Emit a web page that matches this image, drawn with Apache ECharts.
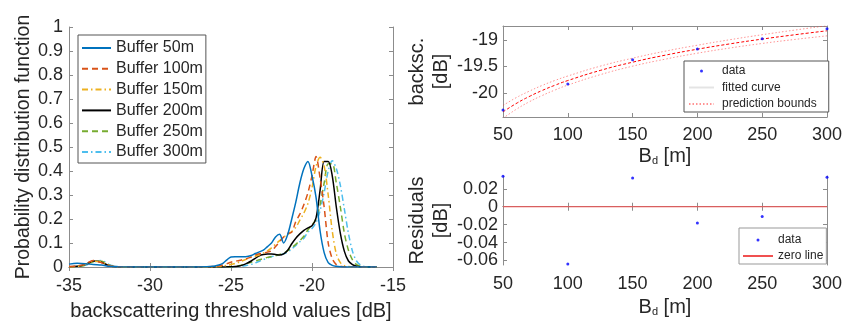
<!DOCTYPE html>
<html>
<head>
<meta charset="utf-8">
<script src="https://cdn.jsdelivr.net/npm/echarts@6.0.0/dist/echarts.min.js"></script>
<style>
  html, body { margin: 0; padding: 0; background: #fff; }
  #main { width: 853px; height: 328px; }
</style>
</head>
<body>
<div id="main"></div>
<script>
// ---- left plot: pdf of backscattering thresholds ----
var XS = [-35, -34.5, -34, -33.5, -33, -32.5, -32, -30, -28, -26.5,
  -26, -25.75, -25.5, -25.25, -25, -24.75, -24.5, -24.25, -24, -23.75, -23.5, -23.25,
  -23, -22.75, -22.5, -22.25, -22, -21.75, -21.5, -21.25, -21, -20.75, -20.5, -20.25,
  -20, -19.75, -19.5, -19.25, -19, -18.75, -18.5, -18.25, -18, -17.75, -17.5, -17.25,
  -17, -16.75, -16.5, -16.25, -16];

var BUF50 = [0.012, 0.016, 0.014, 0.01, 0.008, 0.003, 0.001, 0, 0, 0.001,
  0.004, 0.008, 0.015, 0.03, 0.042, 0.043, 0.043, 0.043, 0.044, 0.048, 0.056, 0.063,
  0.07, 0.085, 0.1, 0.125, 0.136, 0.1, 0.135, 0.2, 0.27, 0.35, 0.41, 0.44,
  0.38, 0.29, 0.15, 0.06, 0.018, 0.007, 0.003, 0.001, 0, 0, 0, 0,
  0, 0, 0, 0, 0];
var BUF100 = [0.002, 0.004, 0.012, 0.027, 0.018, 0.005, 0.001, 0, 0, 0.001,
  0.002, 0.004, 0.008, 0.014, 0.02, 0.024, 0.027, 0.031, 0.036, 0.042, 0.05, 0.055,
  0.058, 0.062, 0.068, 0.085, 0.105, 0.125, 0.14, 0.145, 0.19, 0.22, 0.26, 0.31,
  0.38, 0.46, 0.37, 0.25, 0.1, 0.035, 0.01, 0.003, 0.001, 0, 0, 0,
  0, 0, 0, 0, 0];
var BUF150 = [0.001, 0.003, 0.01, 0.024, 0.022, 0.006, 0.001, 0, 0, 0,
  0.001, 0.002, 0.004, 0.007, 0.01, 0.015, 0.02, 0.027, 0.034, 0.04, 0.045, 0.05,
  0.058, 0.067, 0.08, 0.095, 0.11, 0.125, 0.135, 0.148, 0.165, 0.195, 0.225, 0.265,
  0.33, 0.42, 0.457, 0.42, 0.3, 0.15, 0.055, 0.018, 0.006, 0.002, 0, 0,
  0, 0, 0, 0, 0];
var BUF200 = [0.001, 0.003, 0.01, 0.025, 0.02, 0.005, 0.001, 0, 0, 0,
  0, 0, 0, 0.001, 0.001, 0.002, 0.004, 0.009, 0.016, 0.025, 0.036, 0.047,
  0.052, 0.054, 0.054, 0.052, 0.05, 0.055, 0.07, 0.097, 0.12, 0.138, 0.153, 0.163,
  0.172, 0.205, 0.32, 0.44, 0.44, 0.38, 0.25, 0.14, 0.065, 0.025, 0.01, 0.003,
  0.001, 0, 0, 0, 0];
var BUF250 = [0.001, 0.002, 0.008, 0.022, 0.024, 0.007, 0.001, 0, 0, 0,
  0, 0, 0, 0, 0.001, 0.002, 0.005, 0.01, 0.015, 0.02, 0.025, 0.03,
  0.035, 0.04, 0.044, 0.048, 0.052, 0.058, 0.068, 0.08, 0.095, 0.11, 0.128, 0.155,
  0.175, 0.2, 0.26, 0.35, 0.43, 0.43, 0.35, 0.25, 0.14, 0.07, 0.03, 0.01,
  0.003, 0.001, 0, 0, 0];
var BUF300 = [0.001, 0.002, 0.007, 0.02, 0.027, 0.01, 0.002, 0, 0, 0,
  0, 0, 0, 0, 0, 0.001, 0.002, 0.004, 0.007, 0.011, 0.017, 0.024,
  0.031, 0.038, 0.043, 0.047, 0.05, 0.055, 0.063, 0.075, 0.09, 0.105, 0.12, 0.145,
  0.16, 0.185, 0.235, 0.31, 0.4, 0.443, 0.41, 0.34, 0.24, 0.14, 0.065, 0.025,
  0.008, 0.002, 0, 0, 0];

// ---- right plots: fit of threshold vs buffer distance ----
var BD = [50, 100, 150, 200, 250, 300];
var BACKSC = [-20.32, -19.83, -19.375, -19.17, -18.98, -18.79];
var FIT_X = [50, 60, 70, 80, 90, 100, 125, 150, 175, 200, 225, 250, 275, 300];
var FIT = [-20.354, -20.199, -20.068, -19.954, -19.854, -19.765, -19.575, -19.42,
  -19.289, -19.176, -19.076, -18.986, -18.905, -18.83];
var UPPER = [-20.234, -20.089, -19.968, -19.859, -19.764, -19.68, -19.495, -19.345,
  -19.214, -19.101, -18.998, -18.904, -18.817, -18.735];
var LOWER = [-20.474, -20.309, -20.168, -20.049, -19.944, -19.85, -19.655, -19.495,
  -19.364, -19.251, -19.154, -19.068, -18.993, -18.925];
var RESID = [0.034, -0.064, 0.032, -0.018, -0.011, 0.033];

var FIT_TICKS = [-20, -19.5, -19];
var RES_TICKS = [-0.06, -0.04, -0.02, 0, 0.02];

function pairs(xs, ys) {
  return xs.map(function (x, i) { return [x, ys[i]]; });
}

var FRAME = '#8c8c8c';
var TXT = '#262626';
var FONT = 'Liberation Sans, Arial, sans-serif';

function frameAxis(extra) {
  var a = {
    type: 'value',
    axisLine: { show: true, lineStyle: { color: FRAME, width: 1 } },
    axisTick: { show: true, inside: true, length: 4, lineStyle: { color: FRAME } },
    axisLabel: { show: false },
    splitLine: { show: false }
  };
  return Object.assign(a, extra);
}

var chart = echarts.init(document.getElementById('main'), null, { renderer: 'canvas' });

var bufNames = ['Buffer 50m', 'Buffer 100m', 'Buffer 150m', 'Buffer 200m', 'Buffer 250m', 'Buffer 300m'];
var bufData = [BUF50, BUF100, BUF150, BUF200, BUF250, BUF300];
var bufColors = ['#0072BD', '#D95319', '#EDB120', '#000000', '#77AC30', '#4DBEEE'];
var bufTypes = ['solid', [6, 4], [6, 3, 1.5, 3], 'solid', [6, 4], [6, 3, 1.5, 3]];

var series = bufNames.map(function (n, i) {
  return {
    name: n, type: 'line', xAxisIndex: 0, yAxisIndex: 0,
    data: pairs(XS, bufData[i]), symbol: 'none', smooth: 0.3,
    lineStyle: { color: bufColors[i], width: 1.5, type: bufTypes[i] },
    itemStyle: { color: bufColors[i] }, z: 10 - i
  };
});

series.push(
  {
    name: 'prediction bounds', type: 'line', xAxisIndex: 2, yAxisIndex: 2,
    data: pairs(FIT_X, UPPER), symbol: 'none', smooth: true,
    lineStyle: { color: 'rgba(255,60,60,0.55)', width: 1, type: [1.5, 2] },
    itemStyle: { color: 'rgba(255,60,60,0.55)' }
  },
  {
    name: 'prediction bounds', type: 'line', xAxisIndex: 2, yAxisIndex: 2,
    data: pairs(FIT_X, LOWER), symbol: 'none', smooth: true,
    lineStyle: { color: 'rgba(255,60,60,0.55)', width: 1, type: [1.5, 2] },
    itemStyle: { color: 'rgba(255,60,60,0.55)' }
  },
  {
    name: 'fitted curve', type: 'line', xAxisIndex: 2, yAxisIndex: 2,
    data: pairs(FIT_X, FIT), symbol: 'none', smooth: true,
    lineStyle: { color: '#ff0000', width: 1, type: [3, 2] },
    itemStyle: { color: '#ff0000' }
  },
  {
    name: 'data', type: 'scatter', xAxisIndex: 2, yAxisIndex: 2,
    data: pairs(BD, BACKSC), symbol: 'circle', symbolSize: 3,
    itemStyle: { color: '#0000ff' }, z: 5
  },
  {
    name: 'zero line', type: 'line', xAxisIndex: 4, yAxisIndex: 4,
    data: [[BD[0], 0], [BD[BD.length - 1], 0]], symbol: 'none',
    lineStyle: { color: '#f05050', width: 1.2 }, itemStyle: { color: '#f05050' }
  },
  {
    name: 'data', type: 'scatter', xAxisIndex: 4, yAxisIndex: 4,
    data: pairs(BD, RESID), symbol: 'circle', symbolSize: 3,
    itemStyle: { color: '#0000ff' }, z: 5
  }
);

var labelStyle = { show: true, color: TXT, fontSize: 18, fontFamily: FONT };
var nameStyle = { color: TXT, fontSize: 20, fontFamily: FONT };
var bdName = '{b|B}{s|d}{b| [m]}';
var bdStyle = {
  color: TXT, fontSize: 20, fontFamily: FONT,
  rich: {
    b: { fontSize: 20, fontFamily: FONT, color: TXT },
    s: { fontSize: 11, fontFamily: FONT, color: TXT, verticalAlign: 'bottom', padding: [0, 0, 0, 0] }
  }
};
var noSym = { opacity: 0 };

var option = {
  backgroundColor: '#ffffff',
  animation: false,
  textStyle: { fontFamily: FONT },
  grid: [
    { left: 69, top: 27, width: 324, height: 240, containLabel: false, outerBoundsMode: 'none' },
    { left: 503, top: 26, width: 324, height: 91, containLabel: false, outerBoundsMode: 'none' },
    { left: 503, top: 176, width: 324, height: 89, containLabel: false, outerBoundsMode: 'none' }
  ],
  xAxis: [
    frameAxis({ gridIndex: 0, position: 'bottom', min: -35, max: -15, interval: 5,
      axisLabel: Object.assign({ margin: 10 }, labelStyle),
      name: 'backscattering threshold values [dB]', nameLocation: 'middle', nameGap: 34,
      nameTextStyle: nameStyle }),
    frameAxis({ gridIndex: 0, position: 'top', min: -35, max: -15, interval: 5 }),
    frameAxis({ gridIndex: 1, position: 'bottom', min: 50, max: 300, interval: 50,
      axisLabel: Object.assign({ margin: 9 }, labelStyle),
      name: bdName, nameLocation: 'middle', nameGap: 29, nameTextStyle: bdStyle }),
    frameAxis({ gridIndex: 1, position: 'top', min: 50, max: 300, interval: 50 }),
    frameAxis({ gridIndex: 2, position: 'bottom', min: 50, max: 300, interval: 50,
      axisLabel: Object.assign({ margin: 10 }, labelStyle),
      name: bdName, nameLocation: 'middle', nameGap: 32, nameTextStyle: bdStyle }),
    frameAxis({ gridIndex: 2, position: 'top', min: 50, max: 300, interval: 50 })
  ],
  yAxis: [
    frameAxis({ gridIndex: 0, position: 'left', min: 0, max: 1, interval: 0.1,
      axisLabel: Object.assign({ margin: 6 }, labelStyle),
      name: 'Probability distribution function', nameLocation: 'middle', nameGap: 33,
      nameTextStyle: Object.assign({}, nameStyle, { fontSize: 19.5 }) }),
    frameAxis({ gridIndex: 0, position: 'right', min: 0, max: 1, interval: 0.1 }),
    frameAxis({ gridIndex: 1, position: 'left', min: -20.45, max: -18.74,
      axisTick: { show: true, inside: true, length: 4, lineStyle: { color: FRAME }, customValues: FIT_TICKS },
      axisLabel: Object.assign({ margin: 5, customValues: FIT_TICKS }, labelStyle),
      name: 'backsc.\n[dB]', nameLocation: 'middle', nameGap: 50,
      nameTextStyle: Object.assign({}, nameStyle, { lineHeight: 24 }) }),
    frameAxis({ gridIndex: 1, position: 'right', min: -20.45, max: -18.74,
      axisTick: { show: true, inside: true, length: 4, lineStyle: { color: FRAME }, customValues: FIT_TICKS } }),
    frameAxis({ gridIndex: 2, position: 'left', min: -0.065, max: 0.0343,
      axisTick: { show: true, inside: true, length: 4, lineStyle: { color: FRAME }, customValues: RES_TICKS },
      axisLabel: Object.assign({ margin: 5, customValues: RES_TICKS }, labelStyle),
      name: 'Residuals\n[dB]', nameLocation: 'middle', nameGap: 50,
      nameTextStyle: Object.assign({}, nameStyle, { lineHeight: 24 }) }),
    frameAxis({ gridIndex: 2, position: 'right', min: -0.065, max: 0.0343,
      axisTick: { show: true, inside: true, length: 4, lineStyle: { color: FRAME }, customValues: RES_TICKS } })
  ],
  legend: [
    {
      data: bufNames, orient: 'vertical', left: 78, top: 35,
      itemWidth: 29, itemHeight: 4, itemGap: 4.8, padding: [5, 3, 3, 3],
      itemStyle: noSym,
      backgroundColor: '#fff', borderColor: '#555', borderWidth: 1, borderRadius: 0,
      textStyle: { color: TXT, fontSize: 16, lineHeight: 16, fontFamily: FONT }
    },
    {
      data: [
        'data',
        { name: 'fitted curve', itemStyle: noSym, lineStyle: { color: '#e4e4e4', type: 'solid' } },
        { name: 'prediction bounds', itemStyle: noSym }
      ],
      orient: 'vertical', left: 684, top: 61,
      itemWidth: 25, itemHeight: 3, itemGap: 4.5, padding: [4, 12, 2, 4],
      backgroundColor: '#fff', borderColor: '#555', borderWidth: 1, borderRadius: 0,
      textStyle: { color: TXT, fontSize: 12, lineHeight: 12, fontFamily: FONT, padding: [0, 0, 0, 3] }
    },
    {
      data: ['data', { name: 'zero line', itemStyle: noSym }],
      orient: 'vertical', left: 739, top: 228,
      itemWidth: 30, itemHeight: 3, itemGap: 4, padding: [6, 3, 2, 3],
      backgroundColor: '#fff', borderColor: '#999', borderWidth: 1, borderRadius: 0,
      textStyle: { color: TXT, fontSize: 12, lineHeight: 12, fontFamily: FONT }
    }
  ],
  series: series
};

chart.setOption(option);
</script>
</body>
</html>
